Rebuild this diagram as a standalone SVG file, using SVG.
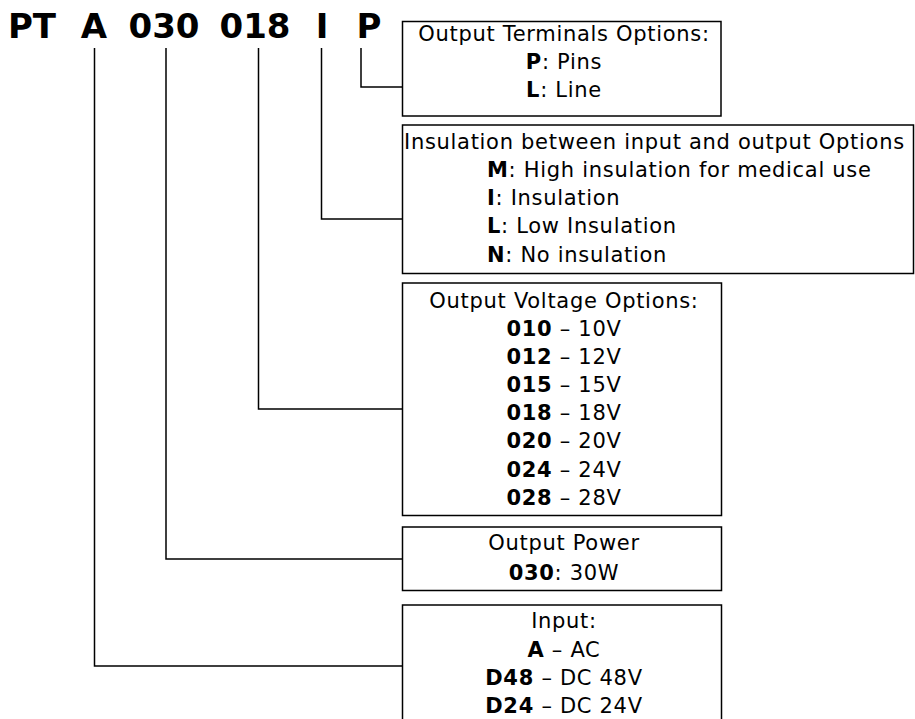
<svg xmlns="http://www.w3.org/2000/svg" width="915" height="719" viewBox="0 0 915 719">
<style>
.box{fill:#fff;stroke:#000;stroke-width:1.5}
.t{font-family:"DejaVu Sans","Liberation Sans",sans-serif;font-size:21px;letter-spacing:0.7px;fill:#000}
.c{text-anchor:middle}
.b{font-weight:bold}
.title{font-family:"DejaVu Sans","Liberation Sans",sans-serif;font-size:34px;font-weight:bold;text-anchor:middle;fill:#000}
.conn{fill:none;stroke:#000;stroke-width:1.5}
</style>
<rect width="915" height="719" fill="#fff"/>
<g id="code">
<text class="title" x="32" y="38">PT</text>
<text class="title" x="94" y="38">A</text>
<text class="title" x="164" y="38">030</text>
<text class="title" x="255" y="38">018</text>
<text class="title" x="322" y="38">I</text>
<text class="title" x="369" y="38">P</text>
</g>
<g id="connectors">
<polyline class="conn" points="361,48 361,87 404,87"/>
<polyline class="conn" points="321.5,48 321.5,219 402.5,219"/>
<polyline class="conn" points="258.5,48 258.5,409 402.5,409"/>
<polyline class="conn" points="166,48 166,559 407,559"/>
<polyline class="conn" points="94.5,48 94.5,666 402.5,666"/>
</g>
<g id="terminals">
<rect class="box" x="402.5" y="21.5" width="318.5" height="94.5"/>
<text class="t c" x="564" y="41">Output Terminals Options:</text>
<text class="t c" x="564" y="69"><tspan class="b">P</tspan>: Pins</text>
<text class="t c" x="564" y="97"><tspan class="b">L</tspan>: Line</text>
</g>
<g id="insulation">
<rect class="box" x="402.5" y="125" width="511" height="148.5"/>
<text class="t" x="404" y="149">Insulation between input and output Options</text>
<text class="t" x="487" y="177"><tspan class="b">M</tspan>: High insulation for medical use</text>
<text class="t" x="487" y="205"><tspan class="b">I</tspan>: Insulation</text>
<text class="t" x="487" y="233"><tspan class="b">L</tspan>: Low Insulation</text>
<text class="t" x="487" y="262"><tspan class="b">N</tspan>: No insulation</text>
</g>
<g id="voltage">
<rect class="box" x="402.5" y="283" width="319" height="232.5"/>
<text class="t c" x="564" y="308">Output Voltage Options:</text>
<text class="t c" x="564" y="336"><tspan class="b">010</tspan> – 10V</text>
<text class="t c" x="564" y="364"><tspan class="b">012</tspan> – 12V</text>
<text class="t c" x="564" y="392"><tspan class="b">015</tspan> – 15V</text>
<text class="t c" x="564" y="420"><tspan class="b">018</tspan> – 18V</text>
<text class="t c" x="564" y="448"><tspan class="b">020</tspan> – 20V</text>
<text class="t c" x="564" y="477"><tspan class="b">024</tspan> – 24V</text>
<text class="t c" x="564" y="505"><tspan class="b">028</tspan> – 28V</text>
</g>
<g id="power">
<rect class="box" x="402.5" y="527" width="319" height="63.5"/>
<text class="t c" x="564" y="550">Output Power</text>
<text class="t c" x="564" y="580"><tspan class="b">030</tspan>: 30W</text>
</g>
<g id="input">
<rect class="box" x="402.5" y="605" width="319" height="130"/>
<text class="t c" x="564" y="628">Input:</text>
<text class="t c" x="564" y="657"><tspan class="b">A</tspan> – AC</text>
<text class="t c" x="564" y="685"><tspan class="b">D48</tspan> – DC 48V</text>
<text class="t c" x="564" y="713"><tspan class="b">D24</tspan> – DC 24V</text>
</g>
</svg>
